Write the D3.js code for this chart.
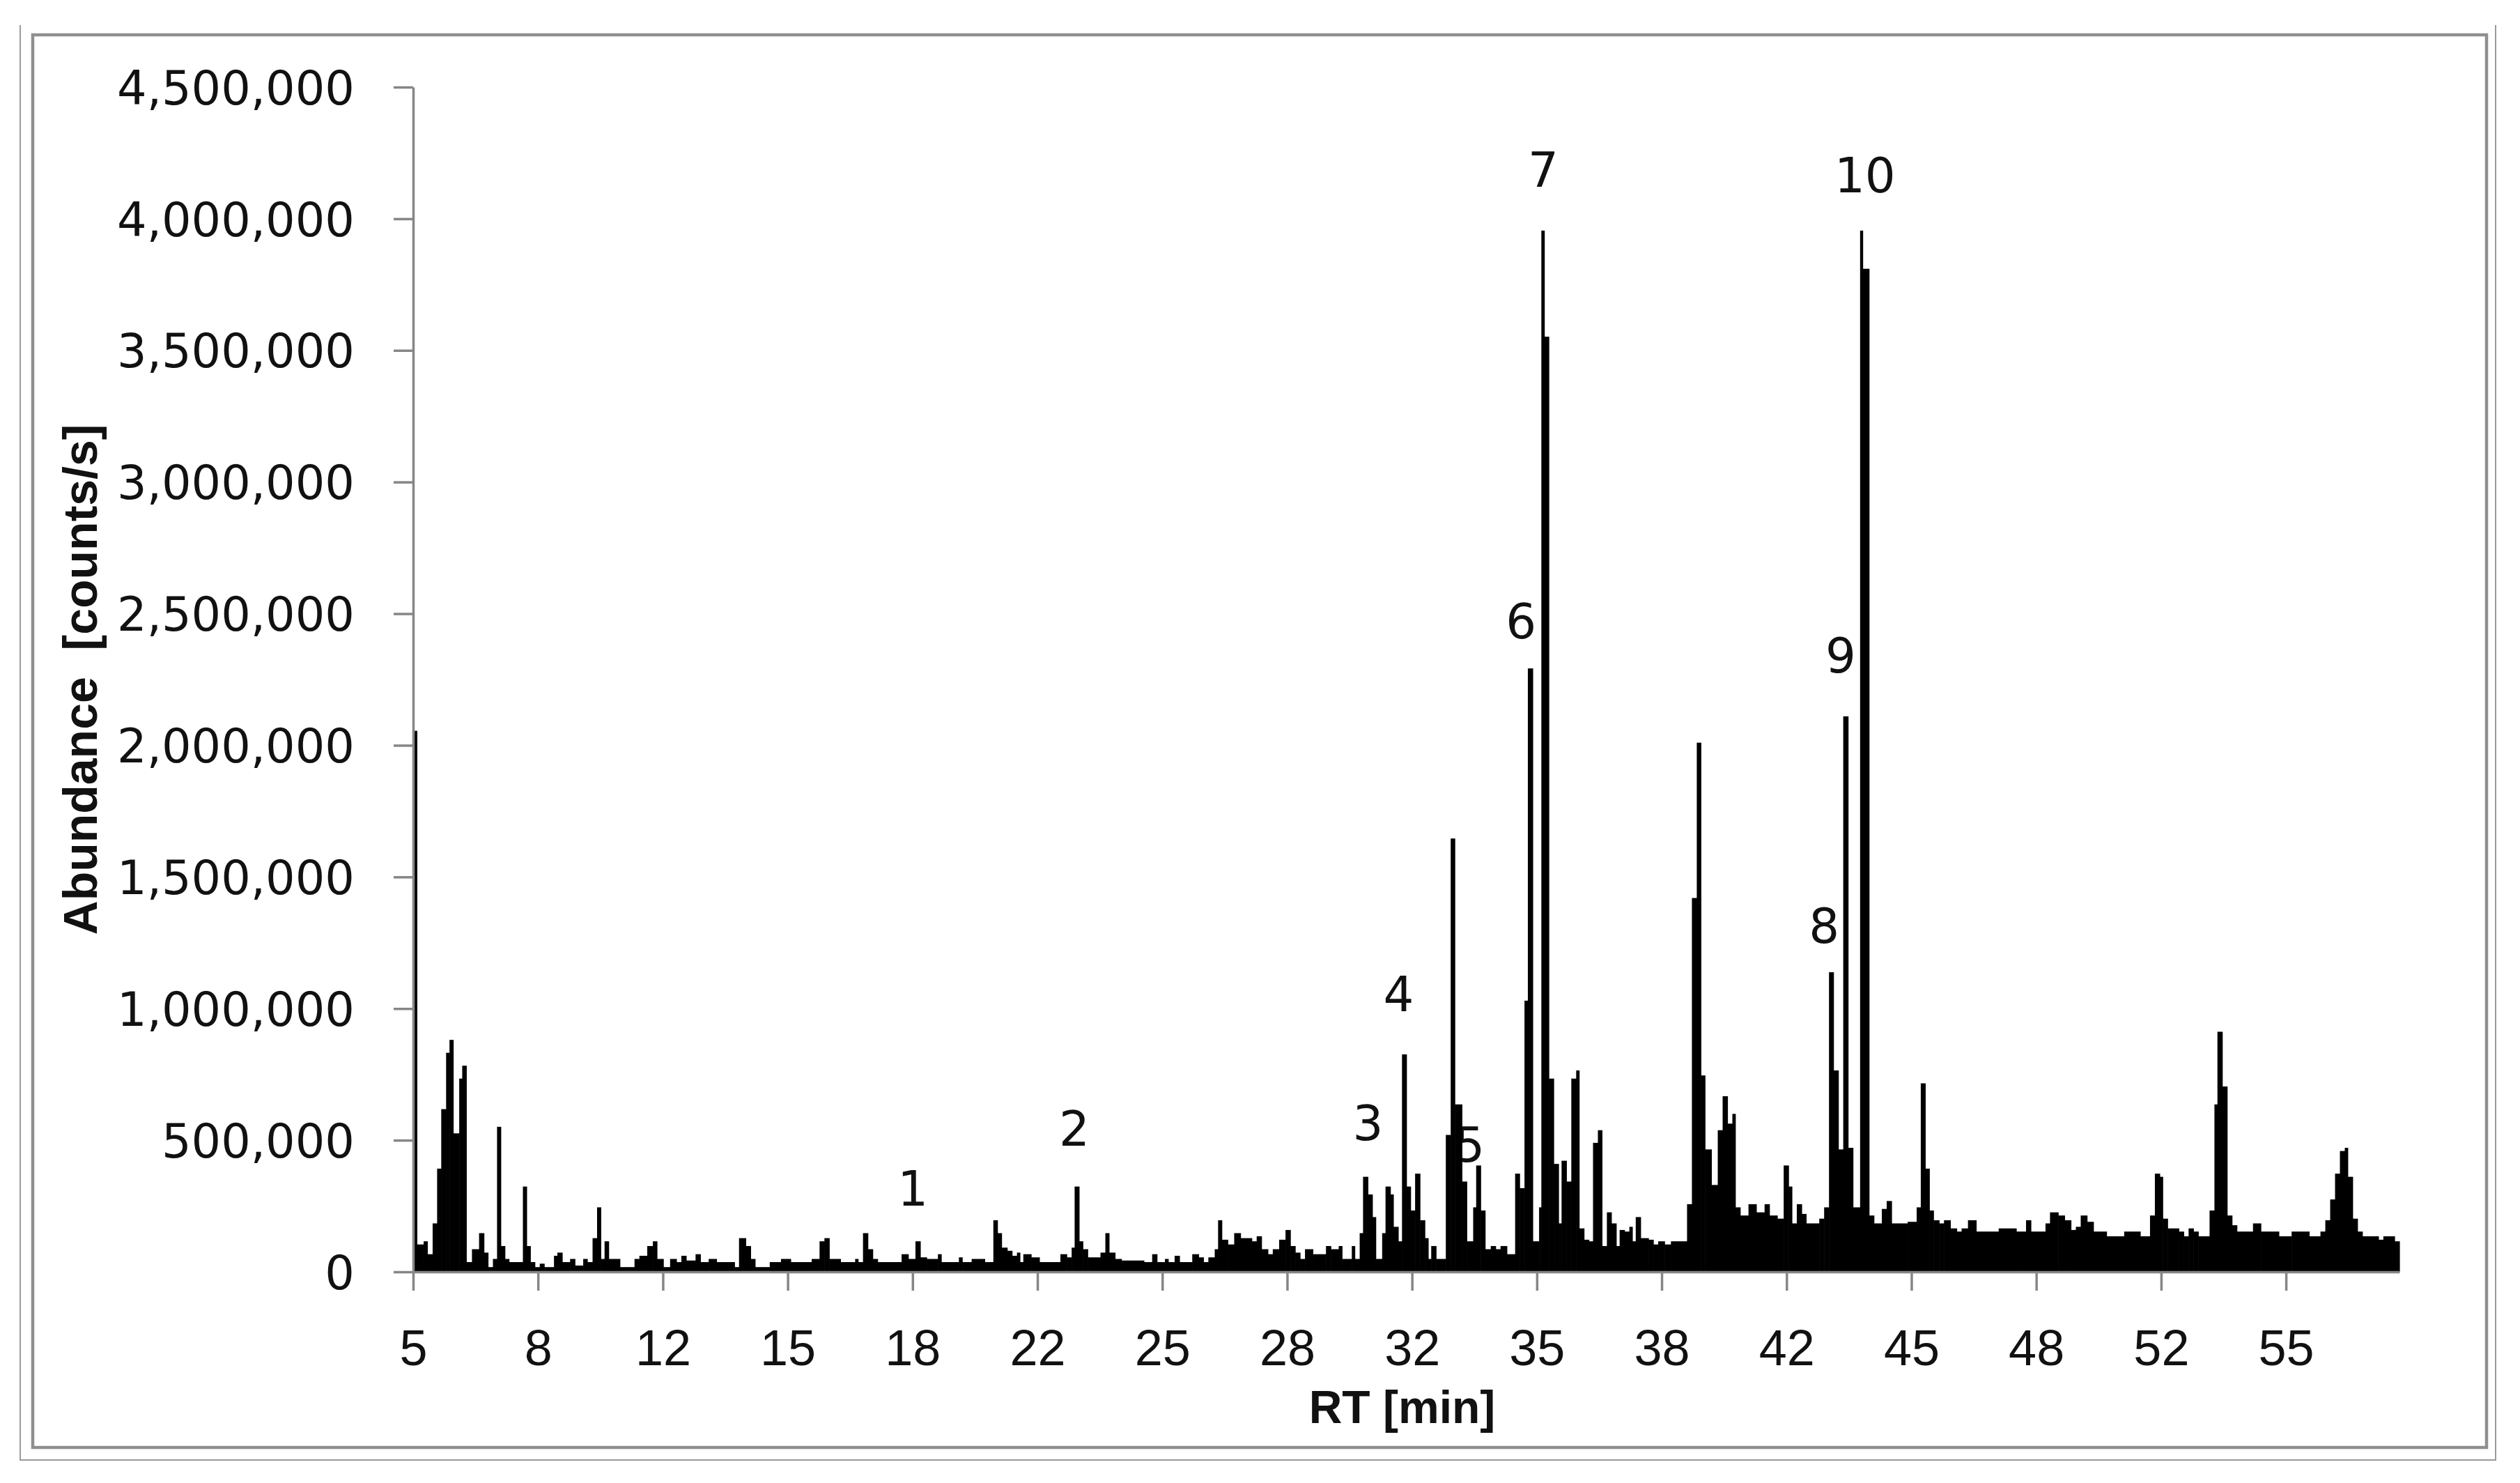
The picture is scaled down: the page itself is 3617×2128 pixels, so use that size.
<!DOCTYPE html>
<html>
<head>
<meta charset="utf-8">
<script src="https://cdn.jsdelivr.net/npm/d3@7"></script>
<style>
html, body { margin: 0; padding: 0; background: #ffffff; }
svg { display: block; }
</style>
</head>
<body>
<script>
// ---------------- DATA ----------------
// Retention time (min) at which each step of the trace starts
const rtMin = [
  5.00, 5.10, 5.28, 5.38, 5.52, 5.64, 5.75, 5.88, 5.97, 6.07,
  6.23, 6.31, 6.42, 6.57, 6.76, 6.89, 7.00, 7.13, 7.24, 7.34,
  7.45, 7.56, 7.93, 8.03, 8.13, 8.25, 8.38, 8.50, 8.76, 8.85,
  8.98, 9.19, 9.32, 9.54, 9.65, 9.79, 9.91, 10.01, 10.11, 10.22,
  10.52, 10.91, 11.04, 11.25, 11.40, 11.51, 11.68, 11.86, 12.03, 12.16,
  12.29, 12.54, 12.67, 12.89, 13.10, 13.58, 13.70, 13.88, 14.01, 14.13,
  14.52, 14.82, 15.08, 15.64, 15.85, 15.98, 16.11, 16.41, 16.80, 16.88,
  17.01, 17.14, 17.27, 17.40, 18.04, 18.22, 18.41, 18.54, 18.71, 19.01,
  19.10, 19.57, 19.66, 19.91, 20.26, 20.49, 20.60, 20.71, 20.86, 20.99,
  21.12, 21.20, 21.29, 21.50, 21.72, 22.28, 22.45, 22.58, 22.66, 22.78,
  22.88, 23.01, 23.35, 23.48, 23.58, 23.74, 23.91, 24.51, 24.73, 24.86,
  25.07, 25.16, 25.33, 25.46, 25.80, 25.97, 26.10, 26.23, 26.40, 26.49,
  26.59, 26.75, 26.92, 27.09, 27.39, 27.52, 27.65, 27.82, 27.95, 28.12,
  28.29, 28.42, 28.55, 28.68, 28.81, 29.02, 29.37, 29.50, 29.71, 29.80,
  30.06, 30.14, 30.27, 30.36, 30.49, 30.61, 30.70, 30.87, 30.96, 31.09,
  31.17, 31.30, 31.40, 31.52, 31.63, 31.75, 31.88, 32.01, 32.10, 32.18,
  32.31, 32.57, 32.70, 32.81, 33.00, 33.13, 33.30, 33.38, 33.50, 33.62,
  33.77, 33.90, 34.03, 34.20, 34.42, 34.54, 34.67, 34.76, 34.89, 35.06,
  35.12, 35.20, 35.32, 35.45, 35.58, 35.66, 35.79, 35.92, 36.05, 36.13,
  36.26, 36.39, 36.50, 36.63, 36.74, 36.87, 36.99, 37.12, 37.21, 37.34,
  37.47, 37.55, 37.64, 37.77, 37.98, 38.11, 38.24, 38.41, 38.58, 39.01,
  39.14, 39.27, 39.38, 39.49, 39.66, 39.83, 39.96, 40.09, 40.22, 40.30,
  40.43, 40.65, 40.86, 41.08, 41.21, 41.42, 41.59, 41.72, 41.81, 41.94,
  42.07, 42.19, 42.54, 42.67, 42.80, 42.92, 43.05, 43.18, 43.31, 43.44,
  43.63, 43.70, 43.87, 44.00, 44.21, 44.34, 44.47, 44.90, 45.14, 45.25,
  45.37, 45.48, 45.59, 45.74, 45.87, 46.04, 46.21, 46.34, 46.51, 46.73,
  47.33, 47.80, 48.06, 48.19, 48.58, 48.70, 48.92, 49.09, 49.26, 49.39,
  49.52, 49.69, 49.86, 50.21, 50.68, 51.11, 51.37, 51.50, 51.63, 51.71,
  51.84, 52.14, 52.27, 52.40, 52.53, 52.66, 52.96, 53.09, 53.17, 53.30,
  53.43, 53.56, 53.69, 54.12, 54.33, 54.81, 55.15, 55.62, 55.92, 56.05,
  56.18, 56.31, 56.44, 56.57, 56.65, 56.78, 56.91, 57.04, 57.47, 57.60,
  57.90
];
// Abundance (counts/s) of each step
const abundance = [
  2055000, 104000, 116000, 67000, 184000, 392000, 618000, 832000, 881000, 526000,
  734000, 783000, 37000, 86000, 147000, 73000, 18000, 49000, 551000, 98000,
  49000, 37000, 324000, 98000, 37000, 18000, 31000, 18000, 61000, 73000,
  37000, 49000, 24000, 49000, 37000, 128000, 245000, 49000, 116000, 49000,
  18000, 49000, 61000, 98000, 116000, 49000, 18000, 49000, 37000, 61000,
  43000, 67000, 37000, 49000, 37000, 18000, 128000, 98000, 49000, 18000,
  37000, 49000, 37000, 49000, 116000, 128000, 49000, 37000, 49000, 37000,
  147000, 86000, 49000, 37000, 67000, 49000, 116000, 55000, 49000, 67000,
  37000, 55000, 37000, 49000, 37000, 196000, 147000, 92000, 80000, 61000,
  73000, 37000, 67000, 55000, 37000, 67000, 55000, 92000, 324000, 116000,
  86000, 55000, 73000, 147000, 73000, 49000, 43000, 37000, 67000, 37000,
  49000, 37000, 61000, 37000, 67000, 55000, 37000, 55000, 86000, 196000,
  122000, 104000, 147000, 128000, 116000, 135000, 86000, 67000, 86000, 122000,
  159000, 98000, 73000, 49000, 86000, 67000, 98000, 86000, 98000, 49000,
  98000, 49000, 147000, 361000, 294000, 208000, 49000, 147000, 324000, 294000,
  171000, 116000, 826000, 324000, 233000, 373000, 196000, 128000, 49000, 98000,
  49000, 520000, 1646000, 636000, 343000, 116000, 245000, 404000, 233000, 86000,
  98000, 86000, 98000, 67000, 373000, 318000, 1030000, 2292000, 116000, 245000,
  3955000, 3552000, 734000, 410000, 184000, 422000, 343000, 734000, 765000, 165000,
  122000, 116000, 490000, 538000, 98000, 226000, 184000, 98000, 159000, 153000,
  171000, 116000, 208000, 128000, 122000, 104000, 116000, 104000, 116000, 257000,
  1420000, 2010000, 746000, 465000, 330000, 538000, 667000, 563000, 600000, 245000,
  214000, 257000, 226000, 257000, 214000, 202000, 404000, 324000, 184000, 257000,
  220000, 184000, 202000, 245000, 1138000, 765000, 465000, 2110000, 471000, 245000,
  3955000, 3810000, 214000, 184000, 239000, 269000, 184000, 190000, 245000, 716000,
  392000, 233000, 196000, 184000, 196000, 165000, 153000, 165000, 196000, 153000,
  165000, 153000, 196000, 153000, 184000, 226000, 214000, 196000, 159000, 171000,
  214000, 190000, 153000, 135000, 153000, 135000, 214000, 373000, 361000, 202000,
  165000, 153000, 135000, 165000, 153000, 135000, 233000, 636000, 912000, 704000,
  214000, 177000, 153000, 184000, 153000, 135000, 153000, 135000, 153000, 196000,
  275000, 373000, 459000, 471000, 361000, 202000, 153000, 135000, 122000, 135000,
  116000
];
const rtEnd = 58.03;   // end of the recorded run

// Axis ticks
const yTickValues = [0, 500000, 1000000, 1500000, 2000000, 2500000, 3000000, 3500000, 4000000, 4500000];
const xTickRT = [5, 8.333, 11.667, 15, 18.333, 21.667, 25, 28.333, 31.667, 35, 38.333, 41.667, 45, 48.333, 51.667, 55];
const xTickLabels = ["5", "8", "12", "15", "18", "22", "25", "28", "32", "35", "38", "42", "45", "48", "52", "55"];

// Peak annotations: label, RT of the label centre, abundance level of the label baseline
const peakLabels = ["1", "2", "3", "4", "5", "6", "7", "8", "9", "10"];
const peakLabelRT = [18.34, 22.65, 30.49, 31.31, 33.20, 34.58, 35.17, 42.67, 43.11, 43.76];
const peakLabelLevel = [251000, 479000, 500000, 990000, 418000, 2406000, 4121000, 1249000, 2276000, 4100000];

// ---------------- CHART ----------------
const W = 3617, H = 2128;
const plot = { left: 593, right: 3444, top: 125, bottom: 1825 };

const svg = d3.select("body").append("svg")
  .attr("width", W).attr("height", H)
  .attr("viewBox", `0 0 ${W} ${H}`);

svg.append("rect").attr("x", 0).attr("y", 0).attr("width", W).attr("height", H).attr("fill", "#ffffff");

// outer (screenshot) frame: left, bottom, right
svg.append("path")
  .attr("d", "M29,36 L29,2095 L3582,2095 L3582,36")
  .attr("fill", "none").attr("stroke", "#9a9a9a").attr("stroke-width", 2);

// chart area border
svg.append("rect")
  .attr("x", 47).attr("y", 50).attr("width", 3569 - 47).attr("height", 2077 - 50)
  .attr("fill", "none").attr("stroke", "#8f8f8f").attr("stroke-width", 4.5);

const x = d3.scaleLinear().domain([5, rtEnd]).range([plot.left, plot.right]);
const y = d3.scaleLinear().domain([0, 4500000]).range([plot.bottom, plot.top]);

// peak labels (drawn beneath the trace, as in the original)
svg.append("g").selectAll("text")
  .data(peakLabels)
  .join("text")
  .attr("x", (d, i) => x(peakLabelRT[i]))
  .attr("y", (d, i) => y(peakLabelLevel[i]))
  .attr("text-anchor", "middle")
  .attr("font-family", "'DejaVu Sans', Verdana, sans-serif")
  .attr("font-size", 69)
  .attr("fill", "#111")
  .text(d => d);

// trace as columns
const steps = rtMin.map((rt, i) => ({
  rt0: rt,
  rt1: i < rtMin.length - 1 ? rtMin[i + 1] : rtEnd,
  v: abundance[i]
}));

svg.append("g").selectAll("rect")
  .data(steps)
  .join("rect")
  .attr("x", d => x(d.rt0))
  .attr("width", d => Math.max(1, x(d.rt1) - x(d.rt0) + 0.6))
  .attr("y", d => y(d.v))
  .attr("height", d => y(0) - y(d.v))
  .attr("fill", "#000000");

// axes
const axisColor = "#868686";

const yAxis = svg.append("g")
  .attr("transform", `translate(${plot.left},0)`)
  .call(d3.axisLeft(y).tickValues(yTickValues).tickFormat(d3.format(","))
    .tickSize(28).tickSizeOuter(0).tickPadding(56));
yAxis.select(".domain").attr("stroke", axisColor).attr("stroke-width", 3.5);
yAxis.selectAll(".tick line").attr("stroke", axisColor).attr("stroke-width", 3.5);
yAxis.selectAll(".tick text")
  .attr("font-family", "'DejaVu Sans', Verdana, sans-serif")
  .attr("font-size", 67).attr("fill", "#111")
  .attr("dy", "0.36em");

const xAxis = svg.append("g")
  .attr("transform", `translate(0,${plot.bottom})`)
  .call(d3.axisBottom(x).tickValues(xTickRT).tickFormat((d, i) => xTickLabels[i])
    .tickSize(27).tickSizeOuter(0));
xAxis.select(".domain").attr("stroke", axisColor).attr("stroke-width", 3.5);
xAxis.selectAll(".tick line").attr("stroke", axisColor).attr("stroke-width", 3.5);
xAxis.selectAll(".tick text")
  .attr("font-family", "'Liberation Sans', Arial, sans-serif")
  .attr("font-size", 72).attr("fill", "#111")
  .attr("y", 134).attr("dy", null);

// axis titles
svg.append("text")
  .attr("x", (plot.left + plot.right) / 2 - 6)
  .attr("y", 2042)
  .attr("text-anchor", "middle")
  .attr("font-family", "'Liberation Sans', Arial, sans-serif")
  .attr("font-weight", "bold")
  .attr("font-size", 66)
  .attr("fill", "#111")
  .text("RT [min]");

svg.append("text")
  .attr("transform", `translate(139,${(plot.top + plot.bottom) / 2}) rotate(-90)`)
  .attr("text-anchor", "middle")
  .attr("font-family", "'Liberation Sans', Arial, sans-serif")
  .attr("font-weight", "bold")
  .attr("font-size", 68)
  .attr("fill", "#111")
  .attr("xml:space", "preserve")
  .style("white-space", "pre")
  .text("Abundance  [counts/s]");
</script>
</body>
</html>
